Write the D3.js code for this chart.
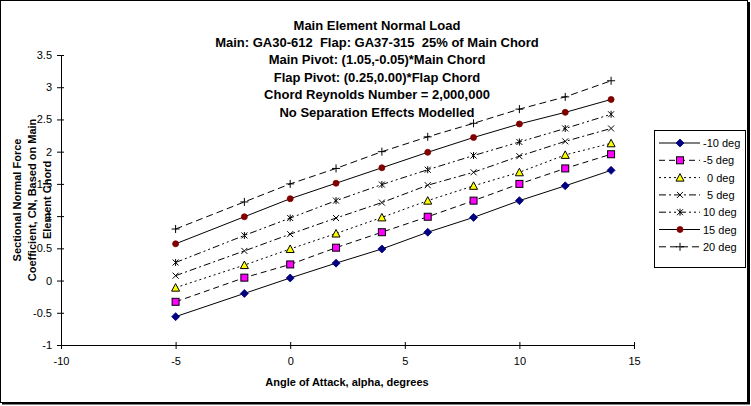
<!DOCTYPE html>
<html><head><meta charset="utf-8">
<script src="https://cdn.jsdelivr.net/npm/d3@7"></script>
<style>
html,body{margin:0;padding:0;background:#fff;}
svg{display:block;font-family:"Liberation Sans",Arial,sans-serif;}
</style></head>
<body><svg id="c" width="751" height="406"></svg>
<script>
const alpha = [-5, -2, 0, 2, 4, 6, 8, 10, 12, 14];
const seriesNames = ["-10 deg", "-5 deg", "0 deg", "5 deg", "10 deg", "15 deg", "20 deg"];
const flapM10 = [-0.56, -0.20, 0.04, 0.27, 0.49, 0.75, 0.98, 1.24, 1.47, 1.71];
const flapM5  = [-0.33, 0.045, 0.25, 0.51, 0.75, 0.99, 1.24, 1.50, 1.74, 1.96];
const flap0   = [-0.11, 0.24, 0.49, 0.73, 0.98, 1.24, 1.47, 1.68, 1.95, 2.13];
const flap5   = [0.076, 0.46, 0.72, 0.97, 1.21, 1.48, 1.68, 1.93, 2.16, 2.36];
const flap10  = [0.28, 0.70, 0.97, 1.24, 1.49, 1.72, 1.94, 2.15, 2.36, 2.58];
const flap15  = [0.57, 0.99, 1.27, 1.51, 1.75, 1.99, 2.22, 2.43, 2.61, 2.81];
const flap20  = [0.80, 1.22, 1.50, 1.74, 2.00, 2.23, 2.44, 2.66, 2.85, 3.10];
const xTicks = [-10, -5, 0, 5, 10, 15];
const yTicks = [-1, -0.5, 0, 0.5, 1, 1.5, 2, 2.5, 3, 3.5];
const titleLines = ["Main Element Normal Load",
  "Main: GA30-612  Flap: GA37-315  25% of Main Chord",
  "Main Pivot: (1.05,-0.05)*Main Chord",
  "Flap Pivot: (0.25,0.00)*Flap Chord",
  "Chord Reynolds Number = 2,000,000",
  "No Separation Effects Modelled"];
const yTitleLines = ["Sectional Normal Force", "Coefficient, CN, Based on Main", "Element Chord"];
const xTitle = "Angle of Attack, alpha, degrees";

const allSeries = [flapM10, flapM5, flap0, flap5, flap10, flap15, flap20];
const styles = [
  {dash: null, marker: "diamond", fill: "#000080", stroke: "#000080"},
  {dash: "6,4", marker: "square", fill: "#FF00FF", stroke: "#000"},
  {dash: "2,3", marker: "triangle", fill: "#FFFF00", stroke: "#000"},
  {dash: "7,3,2,3", marker: "x", fill: "none", stroke: "#000"},
  {dash: "7,3,2,3,2,3", marker: "star", fill: "none", stroke: "#000"},
  {dash: null, marker: "circle", fill: "#800000", stroke: "#800000"},
  {dash: "7,4", marker: "plus", fill: "none", stroke: "#000"}
];

const svg = d3.select("#c");
// chart border
svg.append("rect").attr("x",0.5).attr("y",0.5).attr("width",747).attr("height",402)
  .attr("fill","#fff").attr("stroke","#000").attr("stroke-width",1);
svg.append("line").attr("x1",749).attr("x2",749).attr("y1",2).attr("y2",404).attr("stroke","#000").attr("stroke-width",2);
svg.append("line").attr("x1",2).attr("x2",750).attr("y1",403.5).attr("y2",403.5).attr("stroke","#000").attr("stroke-width",2);

const x = d3.scaleLinear().domain([-10, 15]).range([61, 634]);
const y = d3.scaleLinear().domain([-1, 3.5]).range([345, 55]);

// axes
const xAxis = d3.axisBottom(x).tickValues(xTicks).tickSize(4).tickFormat(d3.format("d"));
const gx = svg.append("g").attr("transform", `translate(0,${y(-1)})`).call(xAxis);
gx.select(".domain").attr("stroke","#000");
gx.selectAll(".tick line").attr("y1",-3).attr("y2",4).attr("stroke","#000");
gx.selectAll(".tick text").attr("y",12).attr("font-size","11px").attr("font-family","Liberation Sans, Arial, sans-serif").attr("fill","#000")
  .text(d => d < 0 ? "-" + Math.abs(d) : d);

const yAxis = d3.axisLeft(y).tickValues(yTicks).tickSize(4);
const gy = svg.append("g").attr("transform", `translate(${x(-10)},0)`).call(yAxis);
gy.select(".domain").attr("stroke","#000");
gy.selectAll(".tick line").attr("x1",-4).attr("x2",3).attr("stroke","#000");
gy.selectAll(".tick text").attr("x",-9).attr("font-size","11px").attr("font-family","Liberation Sans, Arial, sans-serif").attr("fill","#000")
  .text(d => d < 0 ? "-" + Math.abs(d) : String(d));

// marker drawer
function drawMarker(g, type, cx, cy, st) {
  if (type === "diamond") {
    g.append("path").attr("d", `M${cx},${cy-4}L${cx+4},${cy}L${cx},${cy+4}L${cx-4},${cy}Z`).attr("fill", st.fill).attr("stroke", st.stroke).attr("stroke-width",0.8);
  } else if (type === "square") {
    g.append("rect").attr("x", cx-3.5).attr("y", cy-3.5).attr("width",7).attr("height",7).attr("fill", st.fill).attr("stroke","#000").attr("stroke-width",1);
  } else if (type === "triangle") {
    g.append("path").attr("d", `M${cx},${cy-4}L${cx+4},${cy+3.5}L${cx-4},${cy+3.5}Z`).attr("fill", st.fill).attr("stroke","#000").attr("stroke-width",1);
  } else if (type === "circle") {
    g.append("circle").attr("cx",cx).attr("cy",cy).attr("r",3).attr("fill", st.fill).attr("stroke", st.stroke).attr("stroke-width",0.8);
  } else if (type === "x") {
    g.append("path").attr("d", `M${cx-3},${cy-3}L${cx+3},${cy+3}M${cx-3},${cy+3}L${cx+3},${cy-3}`).attr("stroke","#000").attr("stroke-width",1).attr("fill","none");
  } else if (type === "star") {
    g.append("path").attr("d", `M${cx-3},${cy-3}L${cx+3},${cy+3}M${cx-3},${cy+3}L${cx+3},${cy-3}M${cx},${cy-3.5}L${cx},${cy+3.5}`).attr("stroke","#000").attr("stroke-width",1).attr("fill","none");
  } else if (type === "plus") {
    g.append("path").attr("d", `M${cx-4},${cy}L${cx+4},${cy}M${cx},${cy-4}L${cx},${cy+4}`).attr("stroke","#000").attr("stroke-width",1).attr("fill","none");
  }
}

const line = d3.line().x(d => x(d[0])).y(d => y(d[1]));
allSeries.forEach((vals, i) => {
  const st = styles[i];
  const pts = alpha.map((a, j) => [a, vals[j]]);
  const g = svg.append("g");
  g.append("path").attr("d", line(pts)).attr("fill","none").attr("stroke","#000").attr("stroke-width",1)
    .attr("stroke-dasharray", st.dash);
  pts.forEach(p => drawMarker(g, st.marker, x(p[0]), y(p[1]), st));
});

// title
const title = svg.append("text").attr("text-anchor","middle").attr("font-weight","bold").attr("font-size","13px").attr("fill","#000")
  .style("white-space","pre");
titleLines.forEach((t, i) => {
  title.append("tspan").attr("x", 377).attr("y", 29.5 + i * 17.4).text(t);
});

// y title
const yt = svg.append("text").attr("text-anchor","middle").attr("font-weight","bold").attr("font-size","11px").attr("fill","#000")
  .attr("transform","translate(0,200) rotate(-90)");
yTitleLines.forEach((t, i) => {
  yt.append("tspan").attr("x", 0).attr("y", 21 + i * 15).text(t);
});

// x title
svg.append("text").attr("x", 347).attr("y", 386).attr("text-anchor","middle").attr("font-weight","bold").attr("font-size","11px").attr("fill","#000").text(xTitle);

// legend
const lg = svg.append("g");
lg.append("rect").attr("x",654.5).attr("y",130.5).attr("width",91).attr("height",137).attr("fill","#fff").attr("stroke","#000").attr("stroke-width",1);
seriesNames.forEach((nm, i) => {
  const cy = 143 + i * 17.3;
  const st = styles[i];
  lg.append("line").attr("x1",659).attr("x2",700).attr("y1",cy).attr("y2",cy).attr("stroke","#000").attr("stroke-width",1).attr("stroke-dasharray", st.dash);
  drawMarker(lg, st.marker, 680, cy, st);
  lg.append("text").attr("x", i === 2 || i === 3 ? 707 : 703).attr("y", cy + 4).attr("font-size","11px").attr("fill","#000").text(nm);
});
</script>
</body></html>
